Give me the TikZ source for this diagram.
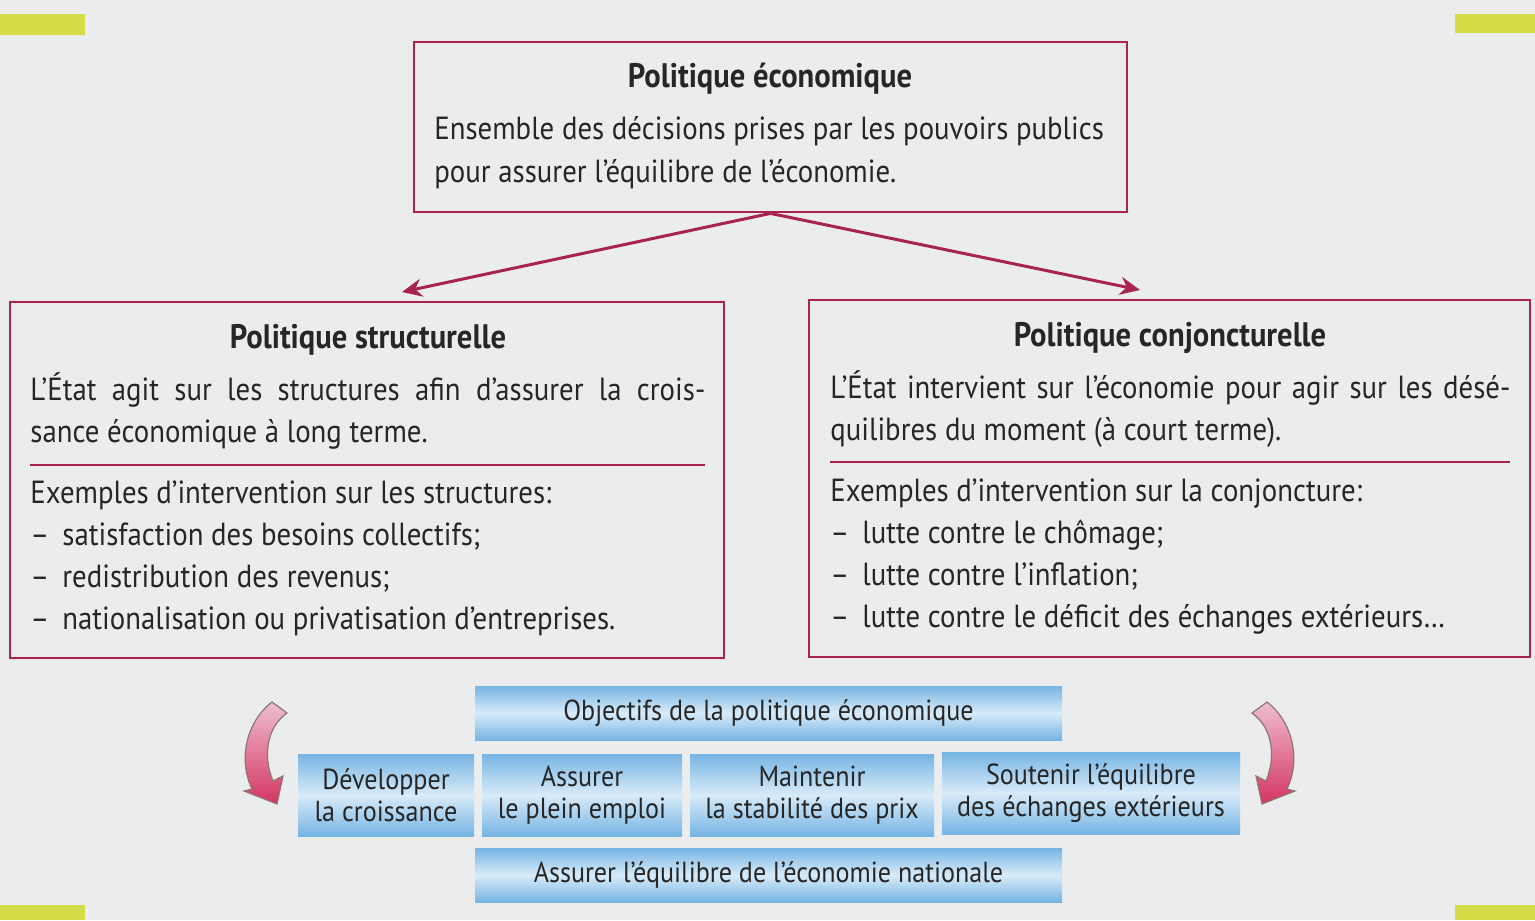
\documentclass[tikz,border=0pt]{standalone}
\usepackage{fontspec}
\setmainfont{PT Sans}[FakeStretch=0.9]
\usetikzlibrary{arrows.meta,calc}

\definecolor{bordeaux}{RGB}{166,36,78}
\definecolor{papier}{RGB}{235,236,237}
\definecolor{encre}{RGB}{38,38,38}
\definecolor{bleufonce}{RGB}{118,180,228}
\definecolor{bleuclair}{RGB}{216,235,248}
\definecolor{jaune}{RGB}{212,221,72}
\definecolor{rose}{RGB}{212,52,98}
\definecolor{roseclair}{RGB}{238,190,208}
\definecolor{brun}{RGB}{140,120,110}

\newcommand{\tiret}{\makebox[16pt][l]{–}}

\begin{document}
\begin{tikzpicture}[x=0.5pt, y=-0.5pt,
    polbox/.style = {draw=bordeaux, line width=1.4pt, inner sep=0pt},
    objbox/.style = {top color=bleufonce, bottom color=bleufonce, middle color=bleuclair,
                     inner sep=0pt, align=center, text=encre, font=\fontsize{14.5}{16}\selectfont},
    titre/.style = {anchor=base, inner sep=0pt, text=encre, font=\fontsize{17}{21}\selectfont\bfseries},
    txt/.style = {anchor=base west, inner sep=0pt, align=left, text=encre, font=\fontsize{16}{21}\selectfont},
    fleche/.style = {draw=bordeaux, line width=1.5pt, -{Stealth[length=10pt, width=9pt]}},
    regle/.style = {draw=bordeaux, line width=1.4pt}]
    \useasboundingbox (0,0) rectangle (1535,920);
    \fill[papier] (0,0) rectangle (1535,920);
    % coins jaunes
    \fill[jaune] (0,14) rectangle (85,35);
    \fill[jaune] (1455,14) rectangle (1535,33);
    \fill[jaune] (0,905) rectangle (85,920);
    \fill[jaune] (1455,905) rectangle (1535,920);

    % cadres
    \node[polbox, minimum width=356.5pt, minimum height=85pt] (eco) at (770.5,127) {};
    \node[polbox, minimum width=357pt, minimum height=178pt] (struct) at (367,480) {};
    \node[polbox, minimum width=360.5pt, minimum height=178.5pt] (conj) at (1169.5,478.5) {};

    % le point de base d'un texte a plusieurs lignes est celui de la derniere ligne
    \node[titre] (ecotitre) at (770,88) {Politique économique};
    \node[txt] (ecotxt) at (434,182) {Ensemble des décisions prises par les pouvoirs publics\\
        pour assurer l’équilibre de l’économie.};

    \node[titre] (structtitre) at (368,348) {Politique structurelle};
    \node[txt] (structdef) at (30,442) {\makebox[337.5pt][s]{L’État agit sur les structures afin d’assurer la crois-}\\
        sance économique à long terme.};
    \draw[regle] (30,465) -- (705,465);
    \node[txt] (structex) at (30,629) {Exemples d’intervention sur les structures:\\
        \tiret satisfaction des besoins collectifs;\\
        \tiret redistribution des revenus;\\
        \tiret nationalisation ou privatisation d’entreprises.};

    \node[titre] (conjtitre) at (1170,346) {Politique conjoncturelle};
    \node[txt] (conjdef) at (830,440) {\makebox[340pt][s]{L’État intervient sur l’économie pour agir sur les désé-}\\
        quilibres du moment (à court terme).};
    \draw[regle] (830,462) -- (1510,462);
    \node[txt] (conjex) at (830,627) {Exemples d’intervention sur la conjoncture:\\
        \tiret lutte contre le chômage;\\
        \tiret lutte contre l’inflation;\\
        \tiret lutte contre le déficit des échanges extérieurs…};

    \coordinate (sa) at (402,292);
    \coordinate (ca) at (1140,290);
    \draw[fleche] (eco.south) -- (sa);
    \draw[fleche] (eco.south) -- (ca);

    % objectifs
    \node[objbox, minimum width=293.5pt, minimum height=27pt] (obj) at (768.5,713) {Objectifs de la politique économique};
    \node[objbox, minimum width=88pt, minimum height=41pt] (croiss) at (386,795) {Développer\\la croissance};
    \node[objbox, minimum width=100pt, minimum height=41pt] (emploi) at (582,795) {Assurer\\le plein emploi};
    \node[objbox, minimum width=122pt, minimum height=41pt] (prix) at (812,795) {Maintenir\\la stabilité des prix};
    \node[objbox, minimum width=149pt, minimum height=41pt] (echanges) at (1091,793) {Soutenir l’équilibre\\des échanges extérieurs};
    \node[objbox, minimum width=293.5pt, minimum height=27pt] (nat) at (768.5,875) {Assurer l’équilibre de l’économie nationale};

    % fleches courbes
    \foreach \s/\dx in {1/0, -1/1539} {
      \begin{scope}[shift={(\dx,0)}, xscale=\s]
        \path[top color=roseclair, bottom color=rose, draw=brun, line width=0.6pt]
          (272,702) .. controls (246,722) and (238,760) .. (252,789)
          -- (244,791) -- (277,804) -- (283,776) -- (273,781)
          .. controls (263,757) and (266,728) .. (287,713) -- cycle;
      \end{scope}
    }
\end{tikzpicture}
\end{document}
